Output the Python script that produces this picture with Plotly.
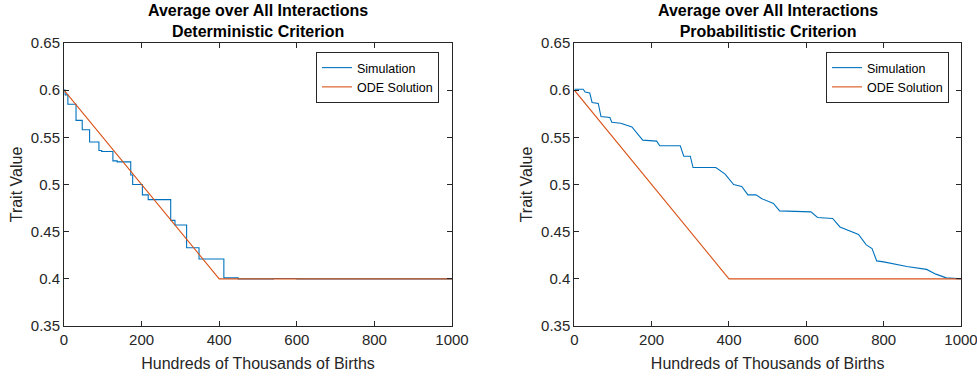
import plotly.graph_objects as go

# ---- data ----
det_sim_x = [0, 3, 10, 31, 47, 66, 90, 97, 126, 137, 172, 177, 202, 217, 275, 286, 316, 348, 412, 449, 540, 600, 1000]
det_sim_y = [0.600, 0.595, 0.585, 0.568, 0.558, 0.545, 0.536, 0.535, 0.525, 0.524, 0.510, 0.500, 0.489, 0.484,
             0.462, 0.457, 0.433, 0.421, 0.401, 0.400, 0.4004, 0.400, 0.400]

prob_sim_x = [0, 23, 28, 40, 46, 62, 69, 92, 97, 120, 149, 177, 213, 221, 274, 283, 300, 307, 366, 390, 412,
              433, 449, 470, 485, 515, 531, 612, 629, 668, 687, 735, 755, 770, 782, 800, 860, 911, 935, 962, 1000]
prob_sim_y = [0.601, 0.601, 0.598, 0.597, 0.587, 0.586, 0.572, 0.571, 0.566, 0.565, 0.561, 0.547, 0.546, 0.541,
              0.541, 0.530, 0.530, 0.518, 0.518, 0.511, 0.500, 0.498, 0.489, 0.489, 0.485, 0.480, 0.472, 0.471,
              0.465, 0.464, 0.455, 0.447, 0.436, 0.432, 0.419, 0.418, 0.413, 0.410, 0.405, 0.401, 0.400]

ode_x = [0, 400, 1000]
ode_y = [0.6, 0.4, 0.4]

x_ticks = [0, 200, 400, 600, 800, 1000]
y_ticks = [0.35, 0.4, 0.45, 0.5, 0.55, 0.6, 0.65]
y_tick_text = ["0.35", "0.4", "0.45", "0.5", "0.55", "0.6", "0.65"]

titles = ["Average over All Interactions<br>Deterministic Criterion",
          "Average over All Interactions<br>Probabilitistic Criterion"]

BLUE = "#0072BD"
ORANGE = "#D95319"
AXC = "#262626"
FONT = "Liberation Sans, Arial, sans-serif"

W, H = 977, 377
ML, MR, MT, MB = 64, 16, 43, 51
PW, PH = W - ML - MR, H - MT - MB

def px_to_paper_x(px):
    return (px - ML) / PW

def px_to_paper_y(py):
    return 1 - (py - MT) / PH

left_dom = [0.0, px_to_paper_x(452)]
right_dom = [px_to_paper_x(574.3), 1.0]

fig = go.Figure()
fig.add_trace(go.Scatter(x=det_sim_x, y=det_sim_y, mode="lines", line=dict(color=BLUE, width=1.1, shape="hv"),
                         name="Simulation", xaxis="x", yaxis="y", legend="legend"))
fig.add_trace(go.Scatter(x=ode_x, y=ode_y, mode="lines", line=dict(color=ORANGE, width=1.1),
                         name="ODE Solution", xaxis="x", yaxis="y", legend="legend"))
fig.add_trace(go.Scatter(x=prob_sim_x, y=prob_sim_y, mode="lines", line=dict(color=BLUE, width=1.1),
                         name="Simulation", xaxis="x2", yaxis="y2", legend="legend2"))
fig.add_trace(go.Scatter(x=ode_x, y=ode_y, mode="lines", line=dict(color=ORANGE, width=1.1),
                         name="ODE Solution", xaxis="x2", yaxis="y2", legend="legend2"))

def xax(dom, anchor):
    return dict(domain=dom, anchor=anchor, range=[0, 1000], tickvals=x_ticks, ticks="inside", ticklen=5,
                tickcolor=AXC, showline=True, linecolor=AXC, linewidth=1, mirror="ticks", showgrid=False,
                zeroline=False, automargin=False, ticklabeloverflow="allow",
                tickfont=dict(size=15, color=AXC, family=FONT),
                title=dict(text="Hundreds of Thousands of Births", font=dict(size=16, color=AXC, family=FONT),
                           standoff=10))

def yax(anchor):
    return dict(domain=[0, 1], anchor=anchor, range=[0.35, 0.65], tickvals=y_ticks, ticktext=y_tick_text,
                ticks="inside", ticklen=5, tickcolor=AXC, showline=True, linecolor=AXC, linewidth=1,
                mirror="ticks", showgrid=False, zeroline=False, automargin=False, ticklabeloverflow="allow",
                tickfont=dict(size=15, color=AXC, family=FONT),
                title=dict(text="Trait Value", font=dict(size=16, color=AXC, family=FONT), standoff=4))

legend_style = dict(yanchor="top", xanchor="right", bgcolor="white", bordercolor=AXC, borderwidth=1,
                    font=dict(size=12.5, color="black", family=FONT), tracegroupgap=0, itemwidth=30)

fig.update_layout(
    width=W, height=H, margin=dict(l=ML, r=MR, t=MT, b=MB, autoexpand=False),
    paper_bgcolor="white", plot_bgcolor="white",
    font=dict(family=FONT, color=AXC),
    xaxis=xax(left_dom, "y"), yaxis=yax("x"),
    xaxis2=xax(right_dom, "y2"), yaxis2=yax("x2"),
    legend=dict(x=px_to_paper_x(439), y=px_to_paper_y(52), **legend_style),
    legend2=dict(x=px_to_paper_x(949), y=px_to_paper_y(52), **legend_style),
    showlegend=True,
)

for dom, t in zip([left_dom, right_dom], titles):
    fig.add_annotation(text="<b>" + t.replace("<br>", "</b><br><b>") + "</b>", x=(dom[0] + dom[1]) / 2,
                       y=px_to_paper_y(0), xref="paper", yref="paper", xanchor="center", yanchor="top",
                       showarrow=False, font=dict(size=16, color="black", family=FONT))

fig.write_html("out.html")
